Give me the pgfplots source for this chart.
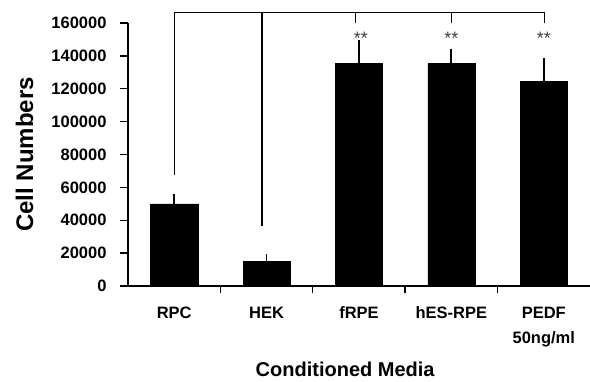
\documentclass[border=0pt]{standalone}
\usepackage{pgfplots}
\pgfplotsset{compat=1.18}
\usepackage{fontspec}
\setmainfont{Liberation Sans}
\begin{document}
\begin{tikzpicture}
\begin{axis}[
  scale only axis, width=462pt, height=263pt,
  xmin=-0.5, xmax=4.5, ymin=0, ymax=160000,
  axis x line=bottom, axis y line=left,
  axis line style={line width=1.6pt, -},
  clip=false,
  tick align=outside,
  xtick={0,1,2,3,4},
  xticklabels={\strut RPC,\strut HEK,\strut fRPE,\strut hES-RPE,{\strut PEDF\\50ng/ml}},
  major x tick style={draw=none},
  minor xtick={0.5,1.5,2.5,3.5},
  minor x tick style={line width=1.4pt, black},
  minor tick length=7pt,
  ytick={0,20000,...,160000},
  major y tick style={line width=1.4pt, black},
  major tick length=8pt,
  scaled y ticks=false,
  /pgf/number format/.cd, fixed, 1000 sep={}, assume math mode=true,
  /pgfplots/.cd,
  tick label style={font=\bfseries\fontsize{16.5}{25}\selectfont},
  xticklabel style={align=center, anchor=north, inner sep=0pt, yshift=-7pt},
  yticklabel style={xshift=-10pt},
  xlabel={Conditioned Media},
  ylabel={Cell Numbers},
  xlabel style={font=\bfseries\fontsize{20}{20}\selectfont, at={(axis description cs:0.47,-0.346)}, anchor=base},
  ylabel style={font=\bfseries\fontsize{24}{24}\selectfont, at={(axis description cs:-0.2056,0.5)}, anchor=base},
]
\addplot[ybar, bar width=0.51, fill=black, draw=black,
  error bars/.cd, y dir=plus, y explicit,
  error bar style={line width=1.8pt, black},
  error mark options={line width=1.8pt, mark size=5.3pt, black}]
  coordinates {
  (0,50000) +- (0,2900)
  (1,14800) +- (0,1200)
  (2,135500) +- (0,10700)
  (3,135500) +- (0,5600)
  (4,124700) +- (0,10800)
};
\addplot[draw=none, mark=none, nodes near coords, point meta=explicit symbolic,
  nodes near coords style={anchor=center, font=\fontsize{18}{18}\selectfont, text=black!75}]
  coordinates {(2.02,150500)[**] (3,150500)[**] (4,150500)[**]};
\draw[line width=1.3pt] (axis cs:0,67500) |- (axis cs:4.01,166500) -- (axis cs:4.01,160000);
\draw[line width=1.3pt] (axis cs:0.95,36500) -- (axis cs:0.95,166500);
\draw[line width=1.3pt] (axis cs:1.96,166500) -- (axis cs:1.96,160000);
\draw[line width=1.3pt] (axis cs:3.0,166500) -- (axis cs:3.0,160000);
\end{axis}
\pgfresetboundingbox
\path[use as bounding box] (-128pt,-95pt) rectangle (462pt,286pt);
\end{tikzpicture}
\end{document}
